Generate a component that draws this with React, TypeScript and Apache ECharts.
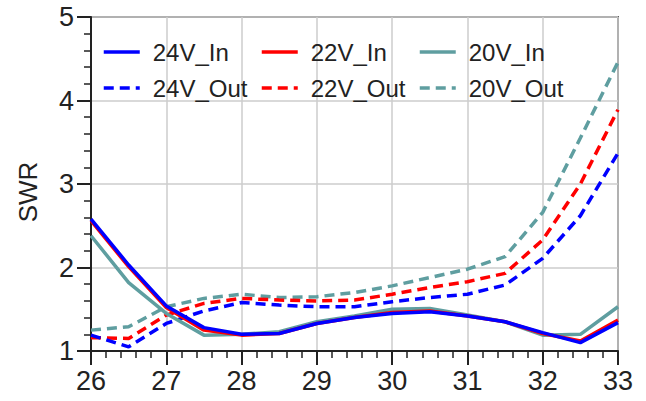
import React, { useEffect, useRef } from "react";
import * as echarts from "echarts";

const freq = [26, 26.5, 27, 27.5, 28, 28.5, 29, 29.5, 30, 30.5, 31, 31.5, 32, 32.5, 33];
const v24In = [2.58, 2.03, 1.54, 1.28, 1.2, 1.21, 1.33, 1.4, 1.45, 1.47, 1.42, 1.35, 1.22, 1.1, 1.34];
const v22In = [2.56, 2.01, 1.52, 1.25, 1.19, 1.21, 1.33, 1.4, 1.46, 1.48, 1.42, 1.35, 1.21, 1.12, 1.37];
const v20In = [2.38, 1.82, 1.45, 1.19, 1.2, 1.23, 1.35, 1.42, 1.5, 1.51, 1.43, 1.35, 1.19, 1.2, 1.53];
const v24Out = [1.19, 1.05, 1.33, 1.48, 1.58, 1.55, 1.53, 1.53, 1.59, 1.64, 1.68, 1.79, 2.11, 2.62, 3.37];
const v22Out = [1.16, 1.15, 1.43, 1.57, 1.63, 1.61, 1.6, 1.61, 1.68, 1.76, 1.83, 1.93, 2.33, 3.0, 3.89];
const v20Out = [1.25, 1.29, 1.53, 1.63, 1.68, 1.64, 1.65, 1.7, 1.78, 1.88, 1.98, 2.13, 2.66, 3.55, 4.46];

const BLUE = "#0000ff";
const RED = "#ff0000";
const TEAL = "#5f9ea0";
const FONT = "'Liberation Sans', Arial, sans-serif";

const pairs = (ys: number[]) => freq.map((x, i) => [x, ys[i]]);

export default function App() {
  const ref = useRef<HTMLDivElement>(null);
  useEffect(() => {
    if (!ref.current) return;
    const chart = echarts.init(ref.current, undefined, { renderer: "svg" });
    const dash = [10, 6];
    const mk = (name: string, ys: number[], color: string, dashed: boolean) => ({
      name,
      type: "line",
      data: pairs(ys),
      showSymbol: false,
      symbol: "none",
      lineStyle: { color, width: 3.5, type: dashed ? dash : "solid" },
      itemStyle: { color },
    });
    const legendBase = {
      orient: "vertical",
      top: 40,
      itemWidth: 36,
      itemHeight: 14,
      itemGap: 12,
      padding: 0,
      itemStyle: { opacity: 0 },
      lineStyle: { width: 3.5 },
      textStyle: { fontSize: 24, lineHeight: 24, color: "#222", fontFamily: FONT, padding: [0, 0, 0, 8] },
    };
    chart.setOption({
      animation: false,
      backgroundColor: "#fff",
      textStyle: { fontFamily: FONT },
      grid: {
        left: 91,
        right: 28,
        top: 17,
        bottom: 50,
        show: true,
        borderColor: "#606060",
        borderWidth: 2,
        backgroundColor: "transparent",
      },
      legend: [
        { ...legendBase, left: 102, data: ["24V_In", "24V_Out"] },
        { ...legendBase, left: 260, data: ["22V_In", "22V_Out"] },
        { ...legendBase, left: 418, data: ["20V_In", "20V_Out"] },
      ],
      xAxis: {
        type: "value",
        min: 26,
        max: 33,
        interval: 1,
        axisLine: { show: true, lineStyle: { color: "#222", width: 2 } },
        axisTick: { show: true, length: 14, lineStyle: { color: "#222", width: 2 } },
        minorTick: { show: true, splitNumber: 5, length: 7, lineStyle: { color: "#222", width: 1.5 } },
        splitLine: { show: true, lineStyle: { color: "#cccccc", width: 1.5 } },
        axisLabel: { fontSize: 27, color: "#222", margin: 16, fontFamily: FONT },
      },
      yAxis: {
        type: "value",
        min: 1,
        max: 5,
        interval: 1,
        axisLine: { show: true, lineStyle: { color: "#222", width: 2 } },
        axisTick: { show: true, length: 14, lineStyle: { color: "#222", width: 2 } },
        minorTick: { show: true, splitNumber: 5, length: 7, lineStyle: { color: "#222", width: 1.5 } },
        splitLine: { show: true, lineStyle: { color: "#cccccc", width: 1.5 } },
        axisLabel: { fontSize: 27, color: "#222", margin: 17, fontFamily: FONT },
      },
      graphic: [
        {
          type: "text",
          x: 28,
          y: 192,
          rotation: Math.PI / 2,
          style: {
            text: "SWR",
            fontSize: 26,
            fontFamily: FONT,
            fill: "#222",
            align: "center",
            verticalAlign: "middle",
          },
        },
      ],
      series: [
        mk("20V_Out", v20Out, TEAL, true),
        mk("22V_Out", v22Out, RED, true),
        mk("24V_Out", v24Out, BLUE, true),
        mk("20V_In", v20In, TEAL, false),
        mk("22V_In", v22In, RED, false),
        mk("24V_In", v24In, BLUE, false),
      ],
    });
    return () => chart.dispose();
  }, []);
  return (
    <div
      ref={ref}
      style={{ position: "fixed", left: 0, top: 0, width: 646, height: 401, background: "#fff" }}
    />
  );
}
